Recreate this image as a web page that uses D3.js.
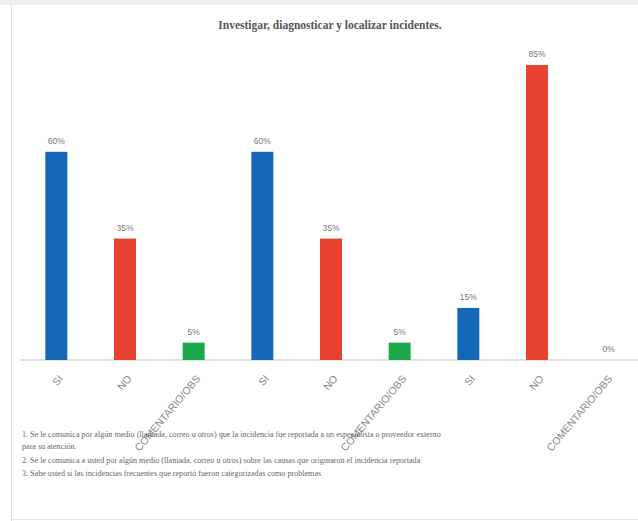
<!DOCTYPE html>
<html><head><meta charset="utf-8">
<script src="https://cdn.jsdelivr.net/npm/d3@7"></script>
<style>html,body{margin:0;padding:0;background:#fff;}svg{display:block;}</style>
</head><body>
<svg id="c" width="638" height="521"></svg>
<script>
const categories = ["SI","NO","COMENTARIO/OBS","SI","NO","COMENTARIO/OBS","SI","NO","COMENTARIO/OBS"];
const values = [60,35,5,60,35,5,15,85,0];
const colorKeys = ["SI","NO","COMENTARIO/OBS"];
const colorVals = ["#1467b8","#e5432f","#1aa84a"];
const title = "Investigar, diagnosticar y localizar incidentes.";
const notes = [
  "1. Se le comunica por algún medio (llamada, correo u otros) que la incidencia fue reportada a un especialista o proveedor externo",
  "para su atención.",
  "2. Se le comunica a usted por algún medio (llamada, correo u otros) sobre las causas que originaron el incidencia reportada",
  "3. Sabe usted si las incidencias frecuentes que reportó fueron categorizadas como problemas"
];

const svg = d3.select("#c");
// frame
svg.append("rect").attr("x",0).attr("y",0).attr("width",638).attr("height",5).attr("fill","#ececec");
svg.append("line").attr("x1",11.5).attr("x2",11.5).attr("y1",5).attr("y2",521).attr("stroke","#dedede");
svg.append("line").attr("x1",11).attr("x2",638).attr("y1",519.5).attr("y2",519.5).attr("stroke","#e4e4e4");

const x = d3.scaleBand().domain(d3.range(categories.length)).range([22,640]).paddingInner(0.68).paddingOuter(0.34);
const y = d3.scaleLinear().domain([0,100]).range([360,13]);
const color = d3.scaleOrdinal().domain(colorKeys).range(colorVals);

svg.append("text").attr("x",330).attr("y",29).attr("text-anchor","middle")
  .style("font-family","'Liberation Serif', 'Times New Roman', serif").attr("font-weight","bold").attr("font-size",11.5)
  .attr("fill","#555").text(title);

// axis
const axis = d3.axisBottom(x).tickSize(0).tickFormat(i => categories[i]);
const gx = svg.append("g").attr("transform","translate(0,360)").call(axis);
gx.attr("font-family",null);
gx.select(".domain").attr("stroke","#d6d6d6").attr("stroke-width",1.5).attr("d","M20,0H638");
gx.selectAll("text").style("font-family","'Liberation Sans', Arial, sans-serif").attr("font-size",10.5)
  .attr("fill","#888").attr("text-anchor","end").attr("dy",0)
  .attr("transform","translate(5,17) rotate(-50)");

svg.append("g").selectAll("rect").data(values).join("rect")
  .attr("x",(d,i)=>x(i)).attr("width",x.bandwidth())
  .attr("y",d=>y(d)).attr("height",d=>y(0)-y(d))
  .attr("fill",(d,i)=>color(categories[i]));

svg.append("g").selectAll("text").data(values).join("text")
  .attr("x",(d,i)=>x(i)+x.bandwidth()/2 + (d===0?3:0)).attr("y",d=>y(d)-8)
  .attr("text-anchor","middle").style("font-family","'Liberation Sans', Arial, sans-serif")
  .attr("font-size",8.5).attr("fill","#777").text(d=>d+"%");

const nt = svg.append("g").style("font-family","'Liberation Serif', 'Times New Roman', serif").attr("font-size",8.1).attr("fill","#666");
const ny = [437,449,463,476];
notes.forEach((t,i)=>nt.append("text").attr("x",22).attr("y",ny[i]).text(t));
</script>
</body></html>
